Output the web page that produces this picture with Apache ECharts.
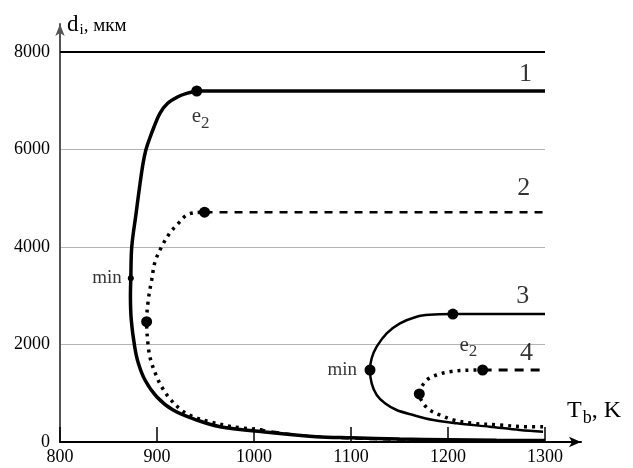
<!DOCTYPE html>
<html>
<head>
<meta charset="utf-8">
<script src="https://cdn.jsdelivr.net/npm/echarts@6/dist/echarts.min.js"></script>
<style>
  html, body { margin: 0; padding: 0; background: #fff; }
  #chart { width: 633px; height: 468px; }
</style>
</head>
<body>
<div id="chart"></div>
<script>
// curve 1 (solid): tail along the bottom -> min -> e2
const curve1T = [1300, 1250, 1200, 1150, 1100, 1064, 1009, 965, 941, 916.6, 899.7, 887.6, 880.7, 877, 873.5, 872.6, 873, 874, 878.5, 882.5, 885.5, 888.5, 892.5, 897, 903, 911, 921.6, 930.6, 941]
const curve1D = [30, 35, 45, 60, 85, 109, 211, 314, 451, 656, 929, 1272, 1620, 1955, 2500, 3000, 3358, 4006, 4697, 5300, 5700, 5989, 6230, 6467, 6741, 6947, 7082, 7152, 7200]
const curve1FlatT = [941, 1300]
const curve1FlatD = [7200, 7200]

// curve 2: dashed tail, dotted branch, dashed plateau
const curve2TailT = [1300, 1200, 1150, 1100, 1047, 1009]
const curve2TailD = [30, 40, 50, 75, 140, 246]
const curve2T = [1009, 978, 954.6, 937.4, 925, 913, 904.8, 899.7, 893.5, 891, 889.3, 891, 894.5, 898, 904.8, 913, 922, 930.6, 940, 949]
const curve2D = [246, 314, 416, 519, 656, 896, 1134, 1339, 1682, 1955, 2467, 2912, 3323, 3698, 4006, 4280, 4485, 4656, 4705, 4715]
const curve2FlatT = [949, 1300]
const curve2FlatD = [4715, 4715]

// curve 3 (solid)
const curve3T = [1298, 1274, 1243, 1209, 1184.9, 1164, 1147, 1135, 1126.5, 1121.3, 1119.6, 1121.3, 1126.5, 1136.8, 1150.5, 1167.7, 1181, 1205]
const curve3D = [211, 246, 314, 383, 451, 554, 656, 794, 964, 1204, 1477, 1717, 1955, 2229, 2434, 2570, 2610, 2625]
const curve3FlatT = [1205, 1300]
const curve3FlatD = [2625, 2625]

// curve 4: dotted branch, dashed plateau
const curve4T = [1298, 1281, 1253.6, 1226, 1205.5, 1191.8, 1181, 1174.5, 1170.4, 1173, 1178, 1188, 1202, 1219, 1235.7]
const curve4D = [314, 314, 349, 383, 451, 554, 656, 794, 985, 1134, 1272, 1374, 1442, 1472, 1477]
const curve4FlatT = [1235.7, 1300]
const curve4FlatD = [1477, 1477]

// marked points
const dotT = [941, 949, 889.3, 1205, 1119.6, 1235.7, 1170.4]
const dotD = [7200, 4715, 2467, 2625, 1477, 1477, 985]
const minDotT = [873]
const minDotD = [3358]

// text notes on the plot
const noteText = ['1', '2', '3', '4', 'e2', 'e2', 'min', 'min']
const noteT = [1280, 1278, 1277, 1281, 945, 1221, 848.5, 1091]
const noteD = [7548, 5204, 2998, 1819, 6686, 1990, 3364, 1477]

const xTicks = [800, 900, 1000, 1100, 1200, 1300]
const yTicks = [0, 2000, 4000, 6000, 8000]
const topLimit = 8000

const serif = '"Liberation Serif", "DejaVu Serif", serif'
const zip = (a, b) => a.map((v, i) => [v, b[i]])

const chart = echarts.init(document.getElementById('chart'))

const solid = (name, t, d, width, smooth) => ({
  name,
  type: 'line',
  data: zip(t, d),
  showSymbol: false,
  smooth: smooth ? 0.35 : false,
  lineStyle: { color: '#000', width },
})

const broken = (name, t, d, width, dash, smooth) => ({
  name,
  type: 'line',
  data: zip(t, d),
  showSymbol: false,
  smooth: smooth ? 0.35 : false,
  lineStyle: { color: '#000', width, type: dash },
})

chart.setOption({
  animation: false,
  backgroundColor: '#fff',
  grid: [
    { left: 60, right: 88, top: 52, bottom: 26 },
    // only for the long axis lines with arrows
    { left: 60, right: 52, top: 24, bottom: 26 },
  ],
  xAxis: [
    {
      type: 'value',
      gridIndex: 0,
      min: xTicks[0],
      max: xTicks[xTicks.length - 1],
      interval: 100,
      axisLine: { show: false },
      axisTick: { show: true, inside: true, length: 15, lineStyle: { color: '#000', width: 1.5 } },
      axisLabel: { margin: 6, fontFamily: serif, fontSize: 18, color: '#000', formatter: (v) => String(v) },
      splitLine: { show: false },
    },
    {
      type: 'value',
      gridIndex: 1,
      min: 0,
      max: 1,
      axisLine: {
        onZero: false,
        symbol: ['none', 'arrow'],
        symbolSize: [8, 12],
        lineStyle: { color: '#000', width: 2 },
      },
      axisTick: { show: false },
      axisLabel: { show: false },
      splitLine: { show: false },
    },
  ],
  yAxis: [
    {
      type: 'value',
      gridIndex: 0,
      min: yTicks[0],
      max: yTicks[yTicks.length - 1],
      interval: 2000,
      axisLine: { show: false },
      axisTick: { show: false },
      axisLabel: { margin: 10, fontFamily: serif, fontSize: 18, color: '#000', formatter: (v) => String(v) },
      splitLine: { show: true, lineStyle: { color: '#b4b4b4', width: 1 } },
    },
    {
      type: 'value',
      gridIndex: 1,
      min: 0,
      max: 1,
      axisLine: {
        onZero: false,
        symbol: ['none', 'arrow'],
        symbolSize: [7, 12],
        lineStyle: { color: '#555', width: 2 },
      },
      axisTick: { show: false },
      axisLabel: { show: false },
      splitLine: { show: false },
    },
  ],
  graphic: [
    {
      type: 'text',
      left: 67,
      top: 13,
      style: {
        text: '{d|d}{i|i}{u|, мкм}',
        fill: '#000',
        rich: {
          d: { fontFamily: serif, fontSize: 23 },
          i: { fontFamily: serif, fontSize: 15, padding: [12, 0, 0, 1] },
          u: { fontFamily: serif, fontSize: 19, padding: [4, 0, 0, 0] },
        },
      },
    },
    {
      type: 'text',
      left: 567,
      top: 399,
      style: {
        text: '{t|T}{b|b}{t|, K}',
        fill: '#000',
        rich: {
          t: { fontFamily: serif, fontSize: 24 },
          b: { fontFamily: serif, fontSize: 18, padding: [14, 0, 0, 1] },
        },
      },
    },
  ],
  series: [
    solid('limit', [xTicks[0], xTicks[xTicks.length - 1]], [topLimit, topLimit], 2, false),
    solid('1', curve1T, curve1D, 3.5, true),
    solid('1 flat', curve1FlatT, curve1FlatD, 3.5, false),
    broken('2 tail', curve2TailT, curve2TailD, 2.5, [8, 6], true),
    broken('2', curve2T, curve2D, 3.5, [3, 5], true),
    broken('2 flat', curve2FlatT, curve2FlatD, 2.5, [8, 7], false),
    solid('3', curve3T, curve3D, 2.5, true),
    solid('3 flat', curve3FlatT, curve3FlatD, 2.5, false),
    broken('4', curve4T, curve4D, 3.5, [3, 5], true),
    broken('4 flat', curve4FlatT, curve4FlatD, 3, [9, 7], false),
    {
      name: 'dots',
      type: 'scatter',
      data: zip(dotT, dotD),
      symbol: 'circle',
      symbolSize: 11,
      itemStyle: { color: '#000', opacity: 1 },
      z: 5,
    },
    {
      name: 'min dot',
      type: 'scatter',
      data: zip(minDotT, minDotD),
      symbol: 'circle',
      symbolSize: 6,
      itemStyle: { color: '#000', opacity: 1 },
      z: 5,
    },
    {
      name: 'notes',
      type: 'scatter',
      data: noteText.map((t, i) => ({ name: t, value: [noteT[i], noteD[i]] })),
      symbolSize: 0,
      silent: true,
      label: {
        show: true,
        position: 'inside',
        color: '#000',
        fontFamily: serif,
        formatter: (p) => {
          if (p.name === 'e2') return '{e|e}{s|2}'
          if (p.name === 'min') return '{m|min}'
          return '{n|' + p.name + '}'
        },
        rich: {
          n: { fontFamily: serif, fontSize: 26 },
          m: { fontFamily: serif, fontSize: 19 },
          e: { fontFamily: serif, fontSize: 21 },
          s: { fontFamily: serif, fontSize: 17, padding: [14, 0, 0, 0] },
        },
      },
      z: 6,
    },
  ],
})
</script>
</body>
</html>
